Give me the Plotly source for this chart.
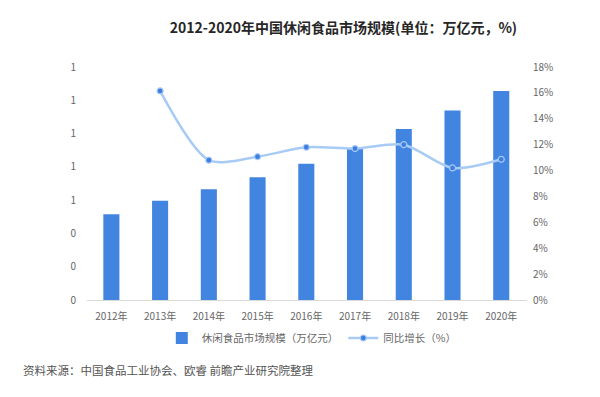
import plotly.graph_objects as go

years = ["2012年", "2013年", "2014年", "2015年", "2016年", "2017年", "2018年", "2019年", "2020年"]
market_size = [0.515, 0.597, 0.665, 0.737, 0.819, 0.909, 1.028, 1.138, 1.256]
growth_years = years[1:]
growth_rate = [0.1615, 0.108, 0.1107, 0.118, 0.117, 0.120, 0.102, 0.1087]

font_family = "Noto Sans CJK SC, Noto Sans, sans-serif"
text_color = "#666666"

fig = go.Figure()
fig.add_trace(go.Bar(
    x=years, y=market_size, name="休闲食品市场规模（万亿元）",
    marker=dict(color="#4285e0", line=dict(width=0)),
    yaxis="y",
))
fig.add_trace(go.Scatter(
    x=growth_years, y=growth_rate, name="同比增长（%）",
    mode="lines+markers",
    line=dict(color="#a8cbf5", width=2.5, shape="spline", smoothing=0.8),
    marker=dict(color="#3d7ee0", size=6, line=dict(color="#a8cbf5", width=1.2)),
    yaxis="y2",
))

fig.update_layout(
    width=600, height=397,
    margin=dict(l=87, r=73, t=67, b=97),
    paper_bgcolor="white", plot_bgcolor="white",
    font=dict(family=font_family, size=11, color=text_color),
    title=dict(
        text="2012-2020年中国休闲食品市场规模(单位：万亿元，%)",
        xref="container", x=0.5725, xanchor="center", y=0.929, yanchor="middle",
        font=dict(family=font_family, size=14, color="#262626", weight="bold"),
    ),
    bargap=0.67,
    showlegend=True,
    legend=dict(
        orientation="h", x=0.17, xanchor="left", y=-0.163, yanchor="middle",
        font=dict(size=10.5, color=text_color), itemwidth=30,
    ),
    xaxis=dict(
        type="category", showgrid=False, showline=True, linecolor="#d9d9d9", linewidth=1,
        ticks="", tickfont=dict(size=10, color=text_color), ticklabelstandoff=7,
    ),
    yaxis=dict(
        range=[0, 1.4], dtick=0.2, tickformat=".0f", showgrid=False, zeroline=False,
        showline=False, ticks="", tickfont=dict(size=10, color=text_color),
        ticklabelstandoff=10,
    ),
    yaxis2=dict(
        range=[0, 0.18], dtick=0.02, tickformat=".0%", showgrid=False, zeroline=False,
        overlaying="y", side="right", showline=False, ticks="",
        tickfont=dict(size=10, color=text_color), ticklabelstandoff=5,
    ),
    annotations=[dict(
        text="资料来源：中国食品工业协会、欧睿 前瞻产业研究院整理",
        xref="paper", yref="paper", x=-0.15, y=-0.30, xanchor="left", yanchor="middle",
        showarrow=False, font=dict(size=11.5, color="#555555", family=font_family),
    )],
)

fig.write_html(
    "out.html",
    config={"displayModeBar": False},
    post_script="document.body.style.margin='0';document.body.style.padding='0';",
)
